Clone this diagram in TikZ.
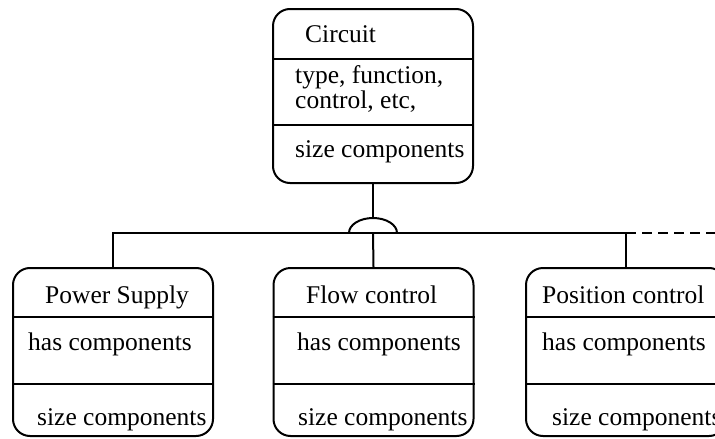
\documentclass[tikz,border=0pt]{standalone}
\usepackage{fontspec}
\setmainfont{Liberation Serif}
\usetikzlibrary{calc,positioning}

\begin{document}
\begin{tikzpicture}[x=1pt,y=-1pt,
    unit/.style={draw,line width=2pt,rounded corners=17pt,minimum width=200pt,inner sep=0pt},
    slot/.style={anchor=base west,inner sep=0pt,align=left,font=\fontsize{25.5}{23}\selectfont},
    link/.style={line width=2pt}
    ]

    \useasboundingbox (0,0) rectangle (715,439);
    \clip (0,0) rectangle (715,439);

    \node (circuit) [unit,minimum height=174pt] at (373,96) {};
    \node (power) [unit,minimum height=168pt] at (113,352) {};
    \node (flow) [unit,minimum height=168pt] at (373.5,352) {};
    \node (position) [unit,minimum height=168pt] at (626,352) {};

    \foreach \y in {59,125}
      \draw[link] (circuit.west |- 0,\y) -- (circuit.east |- 0,\y);
    \foreach \b in {power,flow,position}
      \foreach \y in {317,384}
        \draw[link] (\b.west |- 0,\y) -- (\b.east |- 0,\y);

    \node (ctitle) [slot] at (305,42) {Circuit};
    \node (cattr) [slot] at (295,108) {type, function,\\control, etc,};
    \node (csize) [slot] at (295,157) {size components};

    \node (ptitle) [slot] at (45,303) {Power Supply};
    \node (phas) [slot] at (28,350) {has components};
    \node (psize) [slot] at (37,425) {size components};

    \node (ftitle) [slot] at (306,303) {Flow control};
    \node (fhas) [slot] at (297,350) {has components};
    \node (fsize) [slot] at (298,425) {size components};

    \node (xtitle) [slot] at (542,303) {Position control};
    \node (xhas) [slot] at (542,350) {has components};
    \node (xsize) [slot] at (552,425) {size components};

    % aggregation bus
    \coordinate (hub) at (373,233);
    \draw[link] (circuit.south) -- ($(hub)+(0,-15)$);
    \draw[link] ($(hub)+(-24,0)$) arc[start angle=180,end angle=0,x radius=24pt,y radius=15pt];
    \draw[link] (power.north) |- (hub) -| (position.north);
    \draw[link] (flow.north) -- (hub);
    \draw[link,dash pattern=on 10pt off 6pt] (position.north |- hub) -- ++(100,0);

  \end{tikzpicture}
\end{document}
